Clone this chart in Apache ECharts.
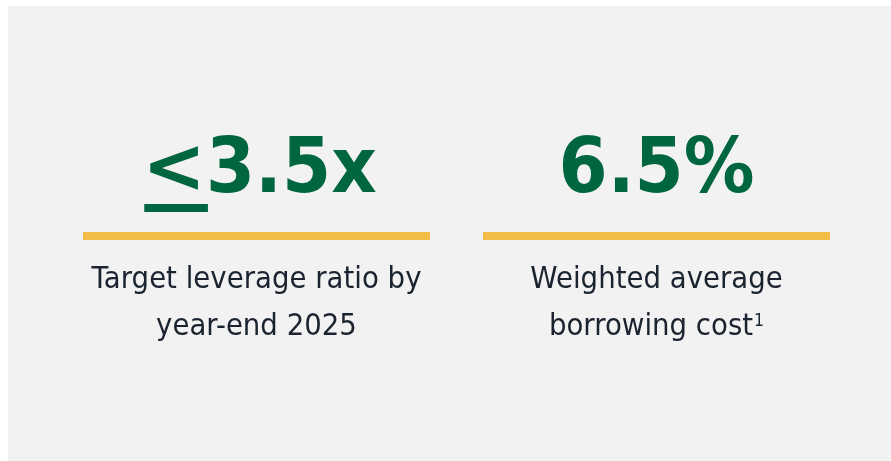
<!DOCTYPE html>
<html>
<head>
<meta charset="utf-8">
<script src="https://cdn.jsdelivr.net/npm/echarts@6/dist/echarts.min.js"></script>
<style>
  html, body { margin: 0; padding: 0; background: #fff; }
  #chart { width: 891px; height: 461px; }
</style>
</head>
<body>
<div id="chart"></div>
<script>
// KPI data
const prefixes = ['<', ''];
const values = ['3.5x', '6.5%'];
const captionLine1 = ['Target leverage ratio by', 'Weighted average'];
const captionLine2 = ['year-end 2025', 'borrowing cost'];
const footnotes = ['', '1'];

const GREEN = '#006640';
const GOLD = '#f3bd4a';
const INK = '#1b2330';
const PANEL = '#f2f2f2';

const bigFont = 'bold 76px "DejaVu Sans"';
const capFont = '30px "DejaVu Sans"';
const supFont = '17px "DejaVu Sans"';
const bigScale = 0.93;
const capScale = 0.92;

// measure text with a canvas so the pieces can be centred
const ctx = document.createElement('canvas').getContext('2d');
const measure = (txt, font) => {
  ctx.font = font;
  return ctx.measureText(txt).width;
};

const centers = [256.5, 656.5];
const elements = [
  { type: 'rect', shape: { x: 8, y: 6, width: 883, height: 455 }, style: { fill: PANEL } }
];

const textEl = (txt, x, y, font, color, scale) => ({
  type: 'text',
  x: x,
  y: y,
  scaleX: scale,
  style: {
    text: txt, font: font, fill: color,
    align: 'left', textAlign: 'left',
    verticalAlign: 'middle', textVerticalAlign: 'middle'
  }
});

centers.forEach((cx, i) => {
  // big number (the prefix carries its own underline)
  const wPre = measure(prefixes[i], bigFont);
  const wVal = measure(values[i], bigFont) * bigScale;
  let x0 = cx - (wPre + wVal) / 2 + (prefixes[i] ? 3 : 0);
  if (prefixes[i]) {
    elements.push(textEl(prefixes[i], x0, 172, bigFont, GREEN, 1));
    elements.push({ type: 'rect', shape: { x: x0 + 2, y: 204, width: wPre, height: 8 }, style: { fill: GREEN } });
  }
  elements.push(textEl(values[i], x0 + wPre, 172, bigFont, GREEN, bigScale));

  // gold rule
  elements.push({ type: 'rect', shape: { x: cx - 173.5, y: 232, width: 347, height: 8 }, style: { fill: GOLD } });

  // caption
  const w1 = measure(captionLine1[i], capFont) * capScale;
  elements.push(textEl(captionLine1[i], cx - w1 / 2, 280, capFont, INK, capScale));
  const w2 = measure(captionLine2[i], capFont) * capScale;
  const wFn = footnotes[i] ? measure(footnotes[i], supFont) * capScale + 1 : 0;
  const x2 = cx - (w2 + wFn) / 2;
  elements.push(textEl(captionLine2[i], x2, 327, capFont, INK, capScale));
  if (footnotes[i]) {
    elements.push(textEl(footnotes[i], x2 + w2 + 1, 322, supFont, INK, capScale));
  }
});

const chart = echarts.init(document.getElementById('chart'));
chart.setOption({
  backgroundColor: '#ffffff',
  animation: false,
  graphic: { elements: elements }
});
</script>
</body>
</html>
